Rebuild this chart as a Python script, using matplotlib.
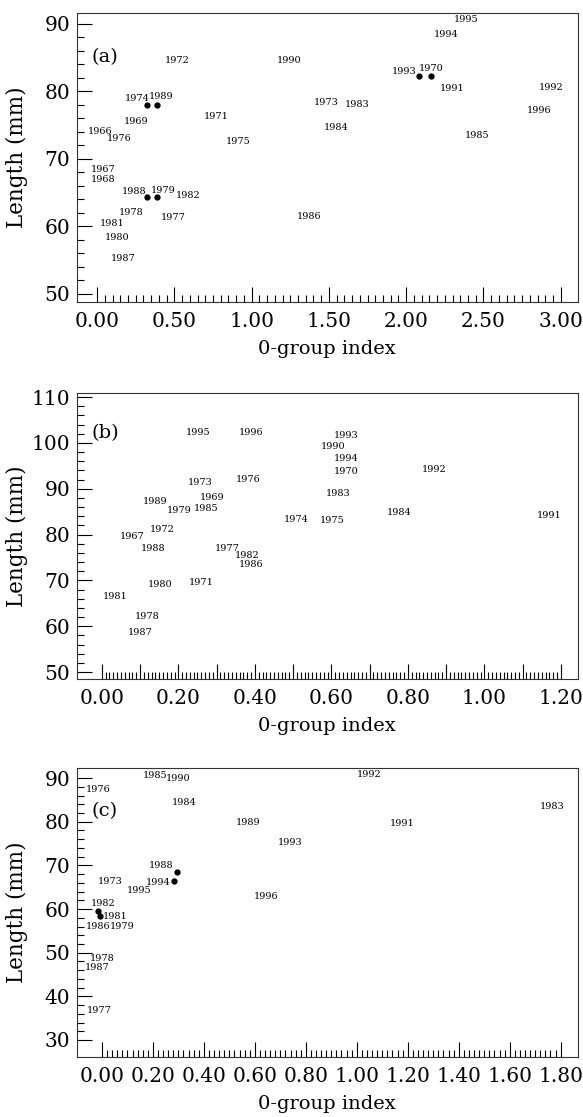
import numpy as np
import matplotlib
matplotlib.use("Agg")
import matplotlib.pyplot as plt

plt.rcParams["font.family"] = ["DejaVu Serif"]

# Panel (a): 0-group index vs. length, 1966-1996
years_a = [1966, 1967, 1968, 1969, 1970, 1971, 1972, 1973, 1974, 1975, 1976,
           1977, 1978, 1979, 1980, 1981, 1982, 1983, 1984, 1985, 1986, 1987,
           1988, 1989, 1990, 1991, 1992, 1993, 1994, 1995, 1996]
index_a = [0.02, 0.04, 0.04, 0.25, 2.16, 0.77, 0.52, 1.48, 0.32, 0.91, 0.14,
           0.49, 0.22, 0.39, 0.13, 0.10, 0.59, 1.68, 1.55, 2.46, 1.37, 0.17,
           0.32, 0.39, 1.24, 2.30, 2.94, 2.08, 2.26, 2.39, 2.86]
length_a = [74.1, 68.4, 66.9, 75.6, 82.2, 76.2, 84.5, 78.3, 77.9, 72.5, 73.0,
            61.3, 62.0, 64.4, 58.3, 60.5, 64.6, 78.1, 74.7, 73.4, 61.4, 55.2,
            64.3, 78.0, 84.5, 80.4, 80.5, 82.3, 88.4, 90.6, 77.1]
dots_a = [1970, 1974, 1979, 1988, 1989, 1993]

# Panel (b)
years_b = [1967, 1969, 1970, 1971, 1972, 1973, 1974, 1975, 1976, 1977, 1978,
           1979, 1980, 1981, 1982, 1983, 1984, 1985, 1986, 1987, 1988, 1989,
           1990, 1991, 1992, 1993, 1994, 1995, 1996]
index_b = [0.080, 0.289, 0.638, 0.260, 0.158, 0.257, 0.507, 0.601, 0.383,
           0.328, 0.119, 0.201, 0.152, 0.034, 0.379, 0.617, 0.776, 0.272,
           0.390, 0.099, 0.134, 0.139, 0.604, 1.169, 0.868, 0.638, 0.640,
           0.251, 0.389]
length_b = [79.6, 88.0, 93.8, 69.5, 81.1, 91.4, 83.4, 83.0, 92.1, 76.9, 62.2,
            85.3, 69.1, 66.5, 75.5, 89.0, 84.8, 85.7, 73.5, 58.7, 76.9, 87.2,
            99.3, 84.1, 94.3, 101.6, 96.5, 102.2, 102.2]
dots_b = []

# Panel (c)
years_c = [1973, 1976, 1977, 1978, 1979, 1981, 1982, 1983, 1984, 1985, 1986,
           1987, 1988, 1989, 1990, 1991, 1992, 1993, 1994, 1995, 1996]
index_c = [0.031, -0.016, -0.012, 0.0, 0.078, -0.007, -0.016, 1.765, 0.322,
           0.208, -0.016, -0.020, 0.294, 0.573, 0.298, 1.180, 1.047, 0.739,
           0.282, 0.145, 0.643]
length_c = [66.2, 87.3, 36.7, 48.6, 56.1, 58.4, 59.6, 83.4, 84.4, 90.6, 56.1,
            46.7, 68.6, 79.9, 89.8, 79.7, 90.8, 75.2, 66.5, 64.2, 62.9]
dots_c = [1981, 1982, 1988, 1994]

# where the year sits relative to its dot (points)
label_offsets = {
    "a": {1974: (-7, 5), 1989: (3, 6), 1988: (-9, 4), 1979: (4, 4.5),
          1993: (-10, 3), 1970: (0, 6)},
    "c": {1988: (-11, 4), 1994: (-11, -1), 1982: (4, 5), 1981: (11, 0)},
}

panels = [
    dict(key="a", years=years_a, x=index_a, y=length_a, dots=dots_a,
         rect=[0.132, 0.7296, 0.859, 0.2588], xlim=(-0.13, 3.11),
         ylim=(48.8, 91.6), xmaj=np.arange(0, 3.01, 0.5), xlab_step=1,
         xmin=np.arange(0, 3.001, 0.05), ymaj=np.arange(50, 91, 10),
         ymin=np.arange(50, 91, 2), tag_y=0.848),
    dict(key="b", years=years_b, x=index_b, y=length_b, dots=dots_b,
         rect=[0.132, 0.3921, 0.859, 0.2561], xlim=(-0.065, 1.244),
         ylim=(48.5, 110.9), xmaj=np.arange(0, 1.201, 0.1), xlab_step=2,
         xmin=np.arange(0, 1.2001, 0.01), ymaj=np.arange(50, 111, 10),
         ymin=np.arange(50, 111, 2), tag_y=0.86),
    dict(key="c", years=years_c, x=index_c, y=length_c, dots=dots_c,
         rect=[0.132, 0.0537, 0.859, 0.2587], xlim=(-0.098, 1.867),
         ylim=(26.1, 92.3), xmaj=np.arange(0, 1.801, 0.2), xlab_step=1,
         xmin=np.arange(0, 1.8001, 0.02), ymaj=np.arange(30, 91, 10),
         ymin=np.arange(30, 91, 2), tag_y=0.852),
]

fig = plt.figure(figsize=(5.83, 11.17), dpi=100)

for p in panels:
    ax = fig.add_axes(p["rect"])
    offs = label_offsets.get(p["key"], {})
    for yr, xv, yv in zip(p["years"], p["x"], p["y"]):
        if yr in p["dots"]:
            ax.plot(xv, yv, "o", color="black", markersize=3.5)
            ax.annotate(str(yr), (xv, yv), xytext=offs.get(yr, (0, 5)),
                        textcoords="offset points", ha="center", va="center",
                        fontsize=7)
        else:
            ax.text(xv, yv, str(yr), ha="center", va="center", fontsize=7)

    ax.set_xlim(p["xlim"])
    ax.set_ylim(p["ylim"])
    ax.set_xticks(p["xmaj"])
    ax.set_xticklabels([f"{v:.2f}" if i % p["xlab_step"] == 0 else ""
                        for i, v in enumerate(p["xmaj"])])
    ax.set_xticks(p["xmin"], minor=True)
    ax.set_yticks(p["ymaj"])
    ax.set_yticklabels([f"{v:.0f}" for v in p["ymaj"]])
    ax.set_yticks(p["ymin"], minor=True)

    ax.tick_params(which="both", direction="in", top=False, right=False,
                   color="black", width=0.8)
    ax.tick_params(which="major", length=10.5, labelsize=14.5)
    ax.tick_params(which="minor", length=5)
    ax.tick_params(axis="x", which="major", pad=7)
    ax.tick_params(axis="y", which="major", pad=5)
    for s in ax.spines.values():
        s.set_linewidth(0.8)
        s.set_color("#333333")

    ax.set_xlabel("0-group index", fontsize=14, labelpad=7)
    ax.set_ylabel("Length (mm)", fontsize=15.5)
    # same label column for every panel, whatever the tick label width
    ax.yaxis.set_label_coords(-0.097, 0.5)
    ax.text(0.03, p["tag_y"], f"({p['key']})", transform=ax.transAxes,
            ha="left", va="center", fontsize=14)

fig.savefig("out.png", dpi=100)
